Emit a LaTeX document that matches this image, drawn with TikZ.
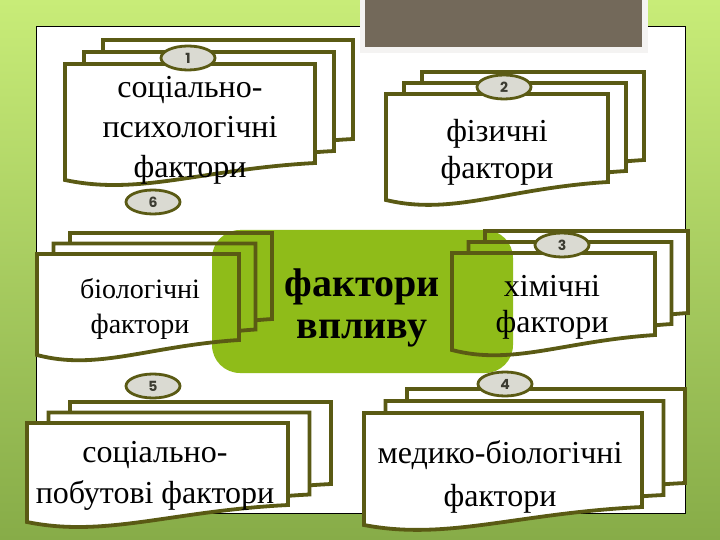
\documentclass[tikz,border=0pt]{standalone}
\usepackage{fontspec}
\setmainfont{Liberation Serif}
\newfontfamily\badgefont{Poppins}
\usetikzlibrary{shapes.geometric}
\definecolor{sheetline}{RGB}{90,90,20}
\definecolor{badgefill}{RGB}{218,218,210}
\definecolor{graybox}{RGB}{115,105,90}
\definecolor{boxgreen}{RGB}{143,188,25}
\definecolor{bgtop}{RGB}{200,236,120}
\definecolor{bgbot}{RGB}{135,172,72}
\definecolor{digit}{RGB}{60,60,50}

\newcommand\onesheet[5]{%
  \fill[white] (#1,#2) -- (#3,#2) -- (#3,#4) .. controls ({#3-0.45*(#3-#1)},{#4+6}) and ({#1+0.3*(#3-#1)},{#5+16}) .. (#1,#5) -- cycle;
  \begin{scope}
    \clip (#1,#2) -- (#3,#2) -- (#3,#4) .. controls ({#3-0.45*(#3-#1)},{#4+6}) and ({#1+0.3*(#3-#1)},{#5+16}) .. (#1,#5) -- cycle;
    \fill[boxgreen,rounded corners=28pt] (212,230) rectangle (513,373);
  \end{scope}
  \draw[sheetborder] (#1,#2) -- (#3,#2) -- (#3,#4) .. controls ({#3-0.45*(#3-#1)},{#4+6}) and ({#1+0.3*(#3-#1)},{#5+16}) .. (#1,#5) -- cycle;
}
% L T R yR yL dx dy
\newcommand\docstack[7]{%
  \pgfmathsetmacro\sLa{#1+2*#6}\pgfmathsetmacro\sTa{#2+2*#7}%
  \pgfmathsetmacro\sRa{#3+2*#6}\pgfmathsetmacro\sYa{#4+2*#7}\pgfmathsetmacro\sZa{#5+2*#7}%
  \onesheet{\sLa}{\sTa}{\sRa}{\sYa}{\sZa}
  \pgfmathsetmacro\sLb{#1+#6}\pgfmathsetmacro\sTb{#2+#7}%
  \pgfmathsetmacro\sRb{#3+#6}\pgfmathsetmacro\sYb{#4+#7}\pgfmathsetmacro\sZb{#5+#7}%
  \onesheet{\sLb}{\sTb}{\sRb}{\sYb}{\sZb}
  \onesheet{#1}{#2}{#3}{#4}{#5}
}

\tikzset{
  sheetborder/.style={draw=sheetline,line width=3.8pt},
  badge/.style={ellipse,draw=sheetline,line width=2.8pt,fill=badgefill,
    minimum width=54pt,minimum height=24pt,inner sep=0pt,
    font=\badgefont\bfseries\fontsize{14}{14}\selectfont,text=digit},
  bigtext/.style={align=center,font=\fontsize{32}{40}\selectfont},
}

\begin{document}
\begin{tikzpicture}[x=1pt,y=-1pt]
\useasboundingbox (0,0) rectangle (720,540);
% background
\shade[top color=bgtop,bottom color=bgbot] (0,0) rectangle (720,540);
% white panel
\fill[white,draw=black,line width=0.9pt] (36,26) rectangle (685,513);
% gray title box
\fill[white!92!graybox] (360,-5) rectangle (648,53);
\fill[graybox] (365,-5) rectangle (642,47);
% central green box
\fill[boxgreen,rounded corners=28pt] (212,230) rectangle (513,373);

% group 1
\docstack{65}{64}{315}{163}{180}{19}{-12}
\node[bigtext] (t1) at (190,130) {соціально-\\психологічні\\фактори};
% group 2
\docstack{386}{94}{608}{182}{200}{18}{-11}
\node[bigtext,font=\fontsize{32}{37}\selectfont] (t2) at (497,152) {фізичні\\фактори};
% group 6
\docstack{37}{254}{239}{340}{355}{16.5}{-10.5}
\node[bigtext,font=\fontsize{28}{35}\selectfont] (t6) at (140,309) {біологічні\\фактори};
% group 3
\docstack{452}{253}{655}{335}{350}{16.5}{-11}
\node[bigtext,font=\fontsize{32}{36}\selectfont] (t3) at (552,307) {хімічні\\фактори};
% group 5
\docstack{27}{423}{288}{505}{522}{21.5}{-10.5}
\node[bigtext,font=\fontsize{32}{41}\selectfont] (t5) at (155,476) {соціально-\\побутові фактори};
% group 4
\docstack{364}{413}{642}{507}{525}{21.5}{-12}
\node[bigtext,font=\fontsize{32}{43}\selectfont] (t4) at (500,477) {медико-біологічні\\фактори};

% badges
\node[badge] (b1) at (188,58) {1};
\node[badge] (b2) at (504,87) {2};
\node[badge] (b3) at (562,245) {3};
\node[badge] (b4) at (505,384) {4};
\node[badge] (b5) at (153,386) {5};
\node[badge] (b6) at (153,202) {6};

% centre text
\node[align=center,font=\bfseries\fontsize{40}{42}\selectfont] (centre) at (362,308) {фактори\\впливу};
\end{tikzpicture}
\end{document}
